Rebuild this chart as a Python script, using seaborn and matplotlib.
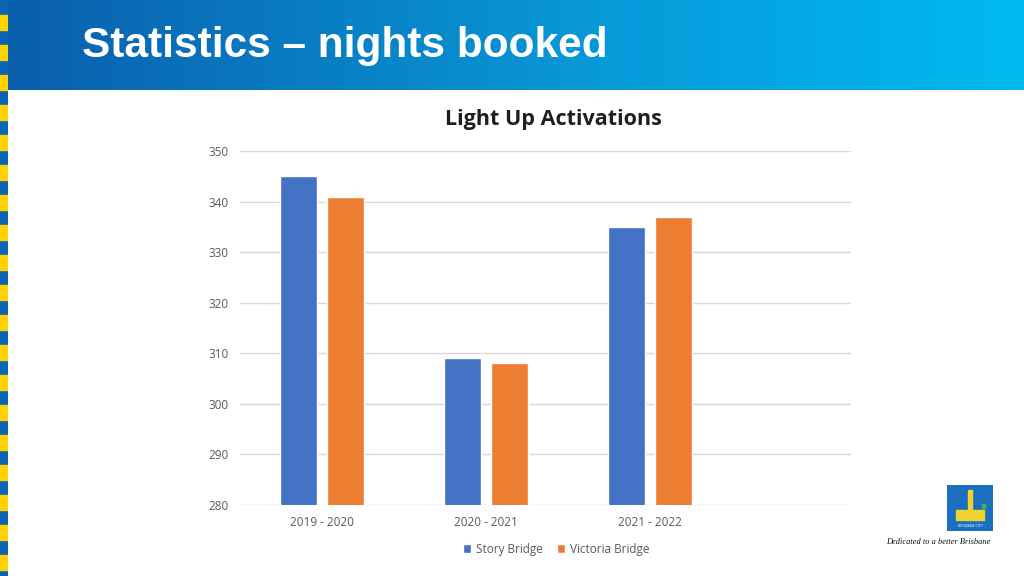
import numpy as np
import pandas as pd
import matplotlib
matplotlib.use("Agg")
import matplotlib.pyplot as plt
import seaborn as sns
from matplotlib.colors import LinearSegmentedColormap
from matplotlib.patches import Rectangle

# data
seasons = ["2019 - 2020", "2020 - 2021", "2021 - 2022"]
story_bridge = [345, 309, 335]
victoria_bridge = [341, 308, 337]
series_names = ["Story Bridge", "Victoria Bridge"]
y_ticks = [280, 290, 300, 310, 320, 330, 340, 350]

df = pd.DataFrame({
    "Season": seasons * 2,
    "Nights": story_bridge + victoria_bridge,
    "Bridge": [series_names[0]] * 3 + [series_names[1]] * 3,
})

sns.set_theme(style="white")
plt.rcParams["font.family"] = ["Open Sans", "DejaVu Sans"]

fig = plt.figure(figsize=(10.24, 5.76), dpi=100)
fig.patch.set_facecolor("white")

# header band with gradient
hdr = fig.add_axes([0, 1 - 90 / 576, 1, 90 / 576])
grad = np.linspace(0, 1, 256).reshape(1, -1)
cmap = LinearSegmentedColormap.from_list(
    "hdr", [(0, "#0A5EAC"), (0.55, "#0896D6"), (1, "#00BAF0")])
hdr.imshow(grad, aspect="auto", cmap=cmap, extent=[0, 1, 0, 1])
hdr.set_axis_off()
fig.text(82 / 1024, 1 - 46 / 576, "Statistics \u2013 nights booked",
         color="white", fontsize=30.5, fontweight="bold",
         family="Liberation Sans", va="center", ha="left")

# left striped edge
strip = fig.add_axes([0, 0, 8 / 1024, 1])
strip.set_xlim(0, 1)
strip.set_ylim(576, 0)
strip.add_patch(Rectangle((0, 0), 1, 576, color="#0B63B3"))
for y0 in range(15, 576, 30):
    strip.add_patch(Rectangle((0, y0), 1, 15, color="#FFD200"))
strip.set_axis_off()

# chart
ax = fig.add_axes([240 / 1024, 1 - 505 / 576, 611 / 1024, 354 / 576])
sns.barplot(data=df, x="Season", y="Nights", hue="Bridge",
            palette=["#4472C4", "#ED7D31"], saturation=1,
            width=0.573, gap=0.213, ax=ax, legend=True)
ax.set_ylim(280, 350)
ax.set_xlim(-0.5, 3.226)
ax.set_yticks(y_ticks)
ax.yaxis.grid(True, color="#D9D9D9", linewidth=1)
ax.set_axisbelow(True)
for s in ax.spines.values():
    s.set_visible(False)
ax.tick_params(axis="both", length=0, labelsize=8.5, colors="#595959", pad=8)
ax.set_xlabel("")
ax.set_ylabel("")
ax.legend(loc="center", bbox_to_anchor=(556 / 1024, 1 - 549 / 576),
          bbox_transform=fig.transFigure, ncol=2, frameon=False,
          fontsize=8.5, handlelength=0.7, handleheight=0.7,
          handletextpad=0.4, columnspacing=1.2, labelcolor="#595959")

fig.text(553 / 1024, 1 - 120 / 576, "Light Up Activations",
         fontsize=15.5, fontweight="bold", color="#1F1F1F",
         ha="center", va="center")

# logo
logo = fig.add_axes([947 / 1024, 1 - 531 / 576, 46 / 1024, 46 / 576])
logo.set_xlim(0, 1)
logo.set_ylim(0, 1)
logo.add_patch(Rectangle((0, 0), 1, 1, color="#1A6FBE"))
logo.add_patch(Rectangle((0.45, 0.45), 0.1, 0.45, color="#F2D230"))
logo.add_patch(Rectangle((0.2, 0.25), 0.6, 0.2, color="#F2D230"))
logo.add_patch(Rectangle((0.75, 0.5), 0.08, 0.08, color="#3DB54A"))
logo.text(0.5, 0.1, "BRISBANE CITY", color="white", fontsize=2.5,
          ha="center", va="center")
logo.set_axis_off()
fig.text(938 / 1024, 1 - 542 / 576, "Dedicated to a better Brisbane",
         fontsize=6, style="italic", family="Liberation Serif",
         ha="center", va="center", color="#111111")

fig.savefig("out.png", dpi=100)
